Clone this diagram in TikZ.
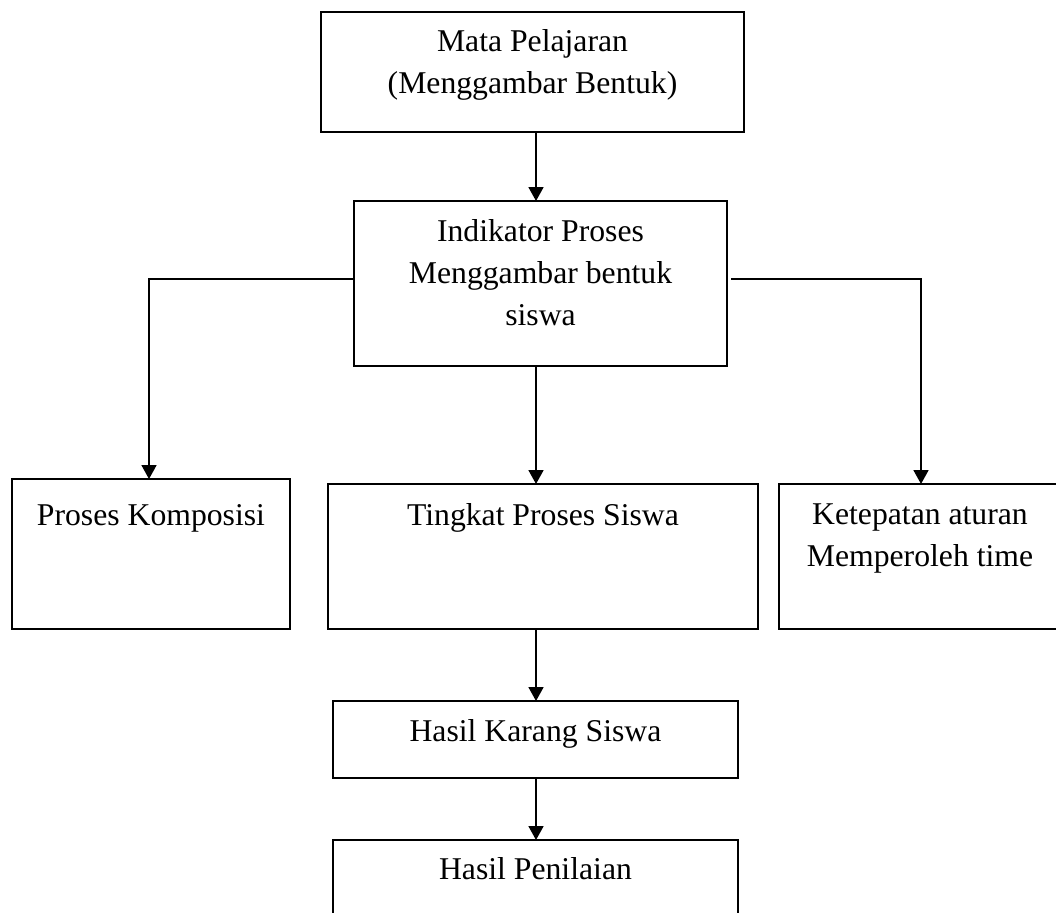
\documentclass[tikz,border=0pt]{standalone}
\usepackage{fontspec}
\setmainfont{Liberation Serif}
\usetikzlibrary{arrows.meta}
\tikzset{
	kotak/.style={draw,line width=0.9pt,inner sep=0pt,outer sep=0pt},
	tulisan/.style={align=center,anchor=base,inner sep=0pt,font=\fontsize{15.85pt}{21pt}\selectfont},
	panah/.style={-{Triangle[length=7pt,width=7.5pt]},line width=0.9pt}
}
\begin{document}
\begin{tikzpicture}[x=0.5pt,y=-0.5pt]
	\useasboundingbox (0,0) rectangle (1056,912);
	\node[kotak,minimum width=211.5pt,minimum height=60pt] (mata) at (532.5,72) {};
	\node[kotak,minimum width=186.5pt,minimum height=82.5pt] (indikator) at (540.5,283.5) {};
	\node[kotak,minimum width=139pt,minimum height=75pt] (proses) at (151,554) {};
	\node[kotak,minimum width=215pt,minimum height=72.5pt] (tingkat) at (543,556.5) {};
	\node[kotak,minimum width=141pt,minimum height=72.5pt] (ketepatan) at (920,556.5) {};
	\node[kotak,minimum width=202.5pt,minimum height=38.5pt] (karang) at (535.5,739.5) {};
	\node[kotak,minimum width=202.5pt,minimum height=45pt] (penilaian) at (535.5,885) {};
	\node[tulisan] (tmata) at (532.5,93) {Mata Pelajaran\\(Menggambar Bentuk)};
	\node[tulisan] (tindikator) at (540.5,325) {Indikator Proses\\Menggambar bentuk\\siswa};
	\node[tulisan] (tproses) at (151,525) {Proses Komposisi};
	\node[tulisan] (ttingkat) at (543,525) {Tingkat Proses Siswa};
	\node[tulisan] (tketepatan) at (920,566) {Ketepatan aturan\\Memperoleh time};
	\node[tulisan] (tkarang) at (535.5,741) {Hasil Karang Siswa};
	\node[tulisan] (tpenilaian) at (535.5,879) {Hasil Penilaian};
	\coordinate (poros) at (536,0);
	\coordinate (cabangkiri) at (149,279);
	\coordinate (cabangkanan) at (921,279);
	\draw[panah] (mata.south -| poros) -- (indikator.north -| poros);
	\draw[panah] (indikator.west |- cabangkiri) -| (proses.north -| cabangkiri);
	\draw[panah,shorten <=2pt] (indikator.east |- cabangkanan) -| (ketepatan.north -| cabangkanan);
	\draw[panah] (indikator.south -| poros) -- (tingkat.north -| poros);
	\draw[panah] (tingkat.south -| poros) -- (karang.north -| poros);
	\draw[panah] (karang.south -| poros) -- (penilaian.north -| poros);
\end{tikzpicture}
\end{document}
